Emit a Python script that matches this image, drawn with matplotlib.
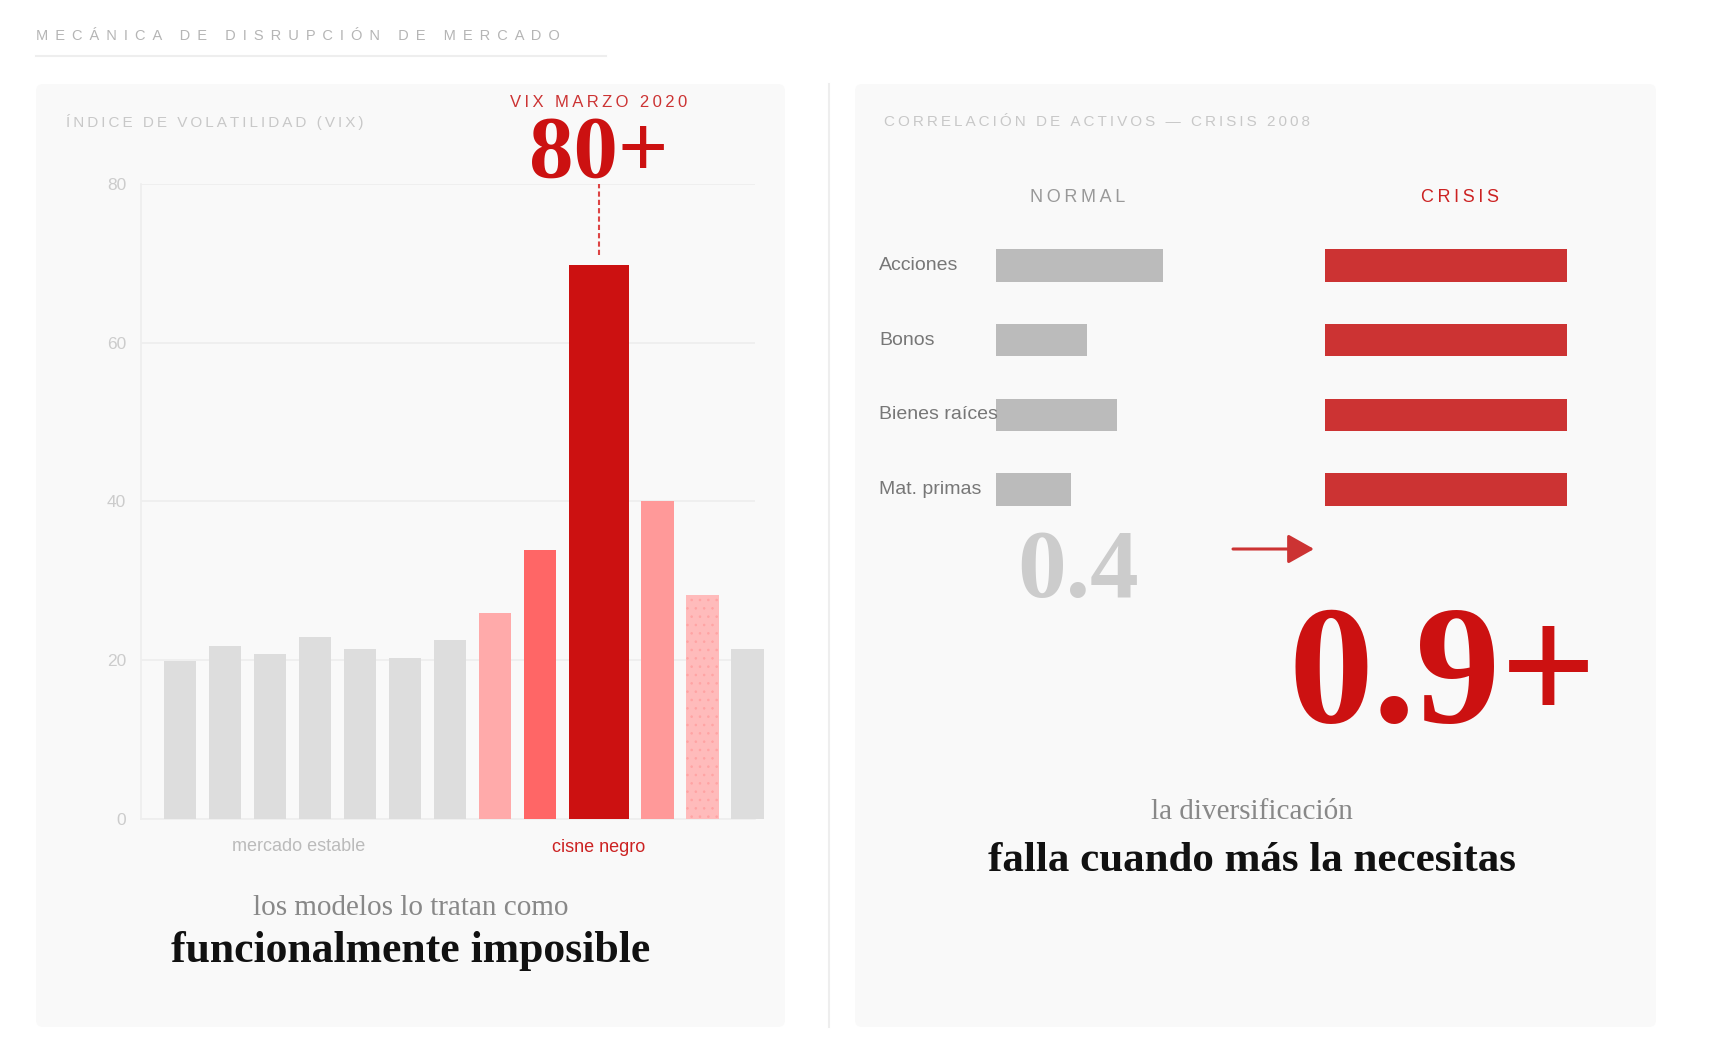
import matplotlib
matplotlib.use("Agg")
import matplotlib.pyplot as plt
from matplotlib.patches import FancyBboxPatch, FancyArrowPatch
from matplotlib.lines import Line2D
from matplotlib import transforms

# ---- data ----
vix_values = [19.9, 21.8, 20.7, 22.9, 21.4, 20.3, 22.5, 25.9, 33.9, 69.8, 40.0, 28.2, 21.4]
vix_ticks = [0, 20, 40, 60, 80]
assets = ["Acciones", "Bonos", "Bienes raíces", "Mat. primas"]
corr_normal = [0.62, 0.34, 0.45, 0.28]
corr_crisis = [0.9, 0.9, 0.9, 0.9]
avg_normal_label = "0.4"
avg_crisis_label = "0.9+"
peak_label = "80+"

# ---- styles ----
bar_colors = ["#dddddd"] * 7 + ["#ffaaaa", "#ff6666", "#cc1111", "#ff9999", "#ffbbbb", "#dddddd"]
bar_widths = [0.725] * 9 + [1.33] + [0.725] * 3
bar_gap = 0.275
RED = "#cc1111"
SANS = ["Liberation Sans", "DejaVu Sans"]
SERIF = ["Liberation Serif", "DejaVu Serif"]

W, H = 1712, 1056
fig = plt.figure(figsize=(W / 100, H / 100), dpi=100)
fig.patch.set_facecolor("white")
plt.rcParams["hatch.linewidth"] = 0.6


def fx(x):
    return x / W


def fy(y):
    return 1 - y / H


def track(s, sep=" "):
    return sep.join(s)


def panel(x0, y0, x1, y1):
    p = FancyBboxPatch((fx(x0), fy(y1)), (x1 - x0) / W, (y1 - y0) / H,
                       boxstyle="round,pad=0,rounding_size=0.004",
                       mutation_aspect=W / H, transform=fig.transFigure,
                       fc="#f9f9f9", ec="none", zorder=-2)
    fig.add_artist(p)


# header
fig.text(fx(36), fy(36), track("MECÁNICA DE DISRUPCIÓN DE MERCADO", " \u2009"),
         family=SANS, fontsize=10.5, color="#b5b5b5", ha="left", va="center")
fig.add_artist(Line2D([fx(36), fx(606)], [fy(56), fy(56)], transform=fig.transFigure,
                      color="#eeeeee", lw=1.5))

panel(36, 84, 785, 1027)
panel(855, 84, 1656, 1027)
fig.add_artist(Line2D([fx(828.5), fx(828.5)], [fy(84), fy(1027)], transform=fig.transFigure,
                      color="#eeeeee", lw=1.5))

# ---- left panel: VIX bars ----
fig.text(fx(66), fy(122), track("ÍNDICE DE VOLATILIDAD (VIX)", "\u2009"), family=SANS,
         fontsize=11, color="#c8c8c8", ha="left", va="center")

ax = fig.add_axes([fx(140.7), fy(818.7), (755 - 140.7) / W, (818.7 - 184) / H])
ax.set_facecolor("none")
lefts = []
pos = 0.0
for w in bar_widths:
    lefts.append(pos)
    pos += w + bar_gap
bars = ax.bar(lefts, vix_values, width=bar_widths, align="edge", color=bar_colors,
              linewidth=0, clip_on=False, zorder=3)
bars[11].set_hatch("..")
bars[11].set_edgecolor("#ffa3a3")

ax.set_xlim(-0.51, 13.14)
ax.set_ylim(0, 80)
ax.set_yticks(vix_ticks)
ax.set_yticklabels([str(t) for t in vix_ticks], family=SANS, fontsize=12.5, color="#cccccc")
ax.set_xticks([])
ax.tick_params(axis="y", length=0, pad=10.5)
ax.yaxis.grid(True, color="#eeeeee", lw=1.2, zorder=0)
for s in ["top", "right"]:
    ax.spines[s].set_visible(False)
for s in ["left", "bottom"]:
    ax.spines[s].set_color("#eeeeee")
    ax.spines[s].set_linewidth(1.2)

peak = vix_values.index(max(vix_values))
pc = lefts[peak] + bar_widths[peak] / 2
ax.plot([pc, pc], [vix_values[peak] + 1.3, 80], ls=(0, (2.5, 1.5)), color="#dd4444",
        lw=1.5, clip_on=False, zorder=2)
ax.annotate(peak_label, xy=(pc, 80), xytext=(0, 5), textcoords="offset points",
            ha="center", va="baseline", family=SERIF, weight="bold", fontsize=64,
            color=RED, annotation_clip=False)
ax.annotate(track("VIX MARZO 2020", "\u2009"), xy=(pc, 80), xytext=(0, 59),
            textcoords="offset points", ha="center", va="center", family=SANS,
            fontsize=12, color="#cc3333", annotation_clip=False)

ax.annotate("cisne negro", xy=(pc, 0), xytext=(0, -21), textcoords="offset points",
            ha="center", va="center", family=SANS, fontsize=13, color="#cc2222",
            annotation_clip=False)
ax.text(0.257, -0.044, "mercado estable", transform=ax.transAxes, ha="center",
        va="center", family=SANS, fontsize=13, color="#bbbbbb")

fig.text(fx(410.5), fy(908), "los modelos lo tratan como", family=SERIF, fontsize=21,
         color="#888888", ha="center", va="center")
fig.text(fx(410.5), fy(951), "funcionalmente imposible", family=SERIF, weight="bold",
         fontsize=31.5, color="#111111", ha="center", va="center")

# ---- right panel: correlations ----
fig.text(fx(884), fy(122), track("CORRELACIÓN DE ACTIVOS — CRISIS 2008", "\u2009"),
         family=SANS, fontsize=11, color="#c8c8c8", ha="left", va="center")
fig.text(fx(1078), fy(197), track("NORMAL", "\u2009"), family=SANS, fontsize=13,
         color="#999999", ha="center", va="center")
fig.text(fx(1460), fy(197), track("CRISIS", "\u2009"), family=SANS, fontsize=13,
         color="#cc2222", ha="center", va="center")

row_top, row_bot = 227.9, 527.1
ax_n = fig.add_axes([fx(996), fy(row_bot), 268.6 / W, (row_bot - row_top) / H])
ax_c = fig.add_axes([fx(1325), fy(row_bot), 268.6 / W, (row_bot - row_top) / H])
rows = list(range(len(assets)))
ax_n.barh(rows, corr_normal, height=0.437, color="#bbbbbb")
ax_c.barh(rows, corr_crisis, height=0.437, color="#cc3333")
for a in (ax_n, ax_c):
    a.set_xlim(0, 1)
    a.set_ylim(len(assets) - 0.5, -0.5)
    a.axis("off")

lab_tr = transforms.blended_transform_factory(fig.transFigure, ax_n.transData)
for r, name in zip(rows, assets):
    ax_n.text(fx(879), r, name, transform=lab_tr, family=SANS, fontsize=14,
              color="#777777", ha="left", va="center")

fig.text(fx(1078), fy(597), avg_normal_label, family=SERIF, weight="bold", fontsize=70,
         color="#cccccc", ha="center", va="baseline")
fig.add_artist(FancyArrowPatch((fx(1233), fy(549)), (fx(1314), fy(549)),
                               transform=fig.transFigure,
                               arrowstyle="-|>,head_length=0.8,head_width=0.45",
                               mutation_scale=20, color="#cc3333", lw=2.2,
                               shrinkA=0, shrinkB=0))
fig.text(fx(1443), fy(722), avg_crisis_label, family=SERIF, weight="bold", fontsize=122,
         color=RED, ha="center", va="baseline")

fig.text(fx(1252), fy(812), "la diversificación", family=SERIF, fontsize=21,
         color="#888888", ha="center", va="center")
fig.text(fx(1252), fy(861), "falla cuando más la necesitas", family=SERIF, weight="bold",
         fontsize=31, color="#111111", ha="center", va="center")

fig.savefig("out.png", dpi=100, facecolor="white")
